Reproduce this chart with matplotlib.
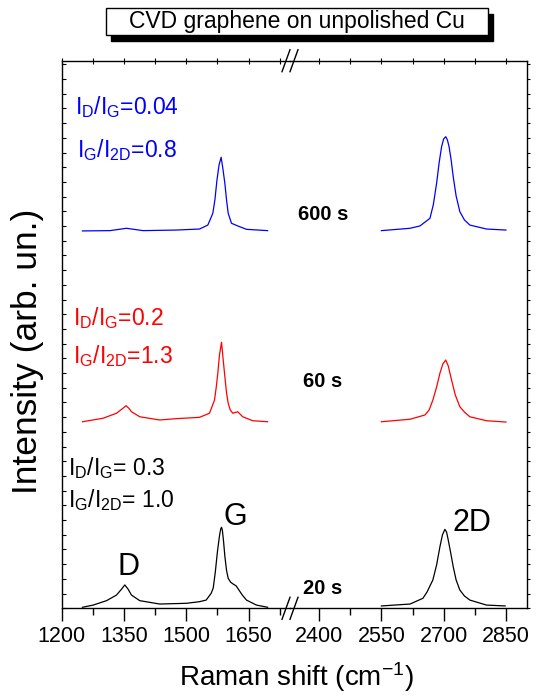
"""
Raman spectra of CVD graphene on unpolished Cu (20 s / 60 s / 600 s growth),
drawn on a broken x axis (D+G window and 2D window).
"""

import matplotlib

matplotlib.use("Agg")
import matplotlib.pyplot as plt  # noqa: E402
from matplotlib.lines import Line2D  # noqa: E402
from matplotlib.patches import Rectangle  # noqa: E402

# spectra, intensity stacked in arb. units
x_dg_20s = [1250, 1276, 1308, 1332, 1344, 1352, 1360, 1368, 1388, 1436, 1500, 1532, 1548,
            1560, 1565, 1570, 1575, 1580, 1583, 1585, 1587, 1590, 1593, 1597, 1601, 1607,
            1614, 1620, 1627, 1635, 1645, 1669, 1696]
y_dg_20s = [0.07, 0.22, 0.52, 0.90, 1.30, 1.59, 1.30, 0.90, 0.52, 0.29, 0.34, 0.45, 0.56,
            1.02, 1.38, 2.47, 3.83, 4.92, 5.40, 5.51, 5.31, 4.50, 3.54, 2.58, 2.04, 1.77,
            1.63, 1.53, 1.24, 0.90, 0.56, 0.22, 0.07]
x_2d_20s = [2550, 2619, 2650, 2660, 2674, 2683, 2691, 2697, 2703, 2707, 2711, 2717, 2723,
            2730, 2739, 2750, 2763, 2803, 2848]
y_2d_20s = [0.16, 0.29, 0.68, 1.11, 1.93, 2.95, 4.19, 4.99, 5.37, 5.18, 4.65, 3.76, 2.83,
            1.93, 1.24, 0.84, 0.56, 0.22, 0.16]

x_dg_60s = [1250, 1300, 1332, 1345, 1355, 1362, 1368, 1388, 1436, 1476, 1532, 1556, 1568,
            1572, 1576, 1580, 1585, 1589, 1593, 1597, 1601, 1606, 1612, 1624, 1636, 1660, 1696]
y_dg_60s = [12.69, 12.93, 13.27, 13.55, 13.78, 13.60, 13.37, 13.03, 12.81, 12.90, 12.99, 13.27, 14.16,
            14.99, 15.99, 17.23, 18.10, 16.89, 15.76, 14.65, 13.95, 13.49, 13.27, 13.37, 13.03,
            12.76, 12.69]
x_2d_60s = [2550, 2619, 2655, 2665, 2674, 2683, 2691, 2698, 2705, 2711, 2719, 2728, 2739,
            2750, 2763, 2803, 2850]
y_2d_60s = [12.69, 12.86, 13.15, 13.49, 14.17, 15.05, 15.99, 16.62, 16.89, 16.49, 15.53, 14.51,
            13.71, 13.35, 13.03, 12.76, 12.67]

x_dg_600s = [1250, 1316, 1356, 1396, 1476, 1532, 1552, 1564, 1569, 1574, 1579, 1584, 1588,
             1593, 1597, 1601, 1609, 1624, 1645, 1696]
y_dg_600s = [25.67, 25.69, 25.85, 25.69, 25.73, 25.80, 26.07, 26.87, 27.78, 29.14, 30.16, 30.68,
             29.95, 28.91, 27.78, 26.87, 26.19, 26.01, 25.78, 25.69]
x_2d_600s = [2550, 2619, 2643, 2667, 2675, 2683, 2689, 2695, 2700, 2705, 2709, 2713, 2718,
             2723, 2730, 2739, 2750, 2763, 2803, 2850]
y_2d_600s = [25.69, 25.85, 26.01, 26.53, 27.44, 28.91, 30.29, 31.40, 31.93, 32.08, 31.86, 31.40,
             30.50, 29.36, 28.05, 26.98, 26.42, 26.07, 25.80, 25.73]

times = ["20 s", "60 s", "600 s"]
colors = ["black", "red", "blue"]
ratio_dg = [r"I$_\mathrm{D}$/I$_\mathrm{G}$= 0.3", r"I$_\mathrm{D}$/I$_\mathrm{G}$=0.2",
            r"I$_\mathrm{D}$/I$_\mathrm{G}$=0.04"]
ratio_g2d = [r"I$_\mathrm{G}$/I$_\mathrm{2D}$= 1.0", r"I$_\mathrm{G}$/I$_\mathrm{2D}$=1.3",
             r"I$_\mathrm{G}$/I$_\mathrm{2D}$=0.8"]

left_ticks = [1200, 1350, 1500, 1650]
left_minor = [1275, 1425, 1575, 1725]
right_ticks = [2400, 2550, 2700, 2850]
right_minor = [2475, 2625, 2775]

FONT = "Liberation Sans"
plt.rcParams["font.family"] = [FONT, "DejaVu Sans"]
plt.rcParams["mathtext.fontset"] = "custom"
plt.rcParams["mathtext.rm"] = FONT
plt.rcParams["mathtext.it"] = FONT
plt.rcParams["mathtext.bf"] = FONT + ":bold"

W, H = 539, 697
fig = plt.figure(figsize=(W / 100, H / 100), dpi=100)


def fx(px):
    return px / W


def fy(py):
    return 1 - py / H


gs = fig.add_gridspec(1, 2, left=fx(61.7), right=fx(526.7), bottom=fy(608.3), top=fy(60.7),
                      wspace=0, width_ratios=[550, 570])
ax1 = fig.add_subplot(gs[0])
ax2 = fig.add_subplot(gs[1], sharey=ax1)
for ax in (ax1, ax2):
    ax.patch.set_visible(False)

xs_dg = [x_dg_20s, x_dg_60s, x_dg_600s]
ys_dg = [y_dg_20s, y_dg_60s, y_dg_600s]
xs_2d = [x_2d_20s, x_2d_60s, x_2d_600s]
ys_2d = [y_2d_20s, y_2d_60s, y_2d_600s]
for xa, ya, xb, yb, c in zip(xs_dg, ys_dg, xs_2d, ys_2d, colors):
    ax1.plot(xa, ya, color=c, lw=0.9)
    ax2.plot(xb, yb, color=c, lw=0.9)

ax1.set_xlim(1200, 1750)
ax2.set_xlim(2330, 2900)
ax1.set_ylim(0, 37.25)

ax1.spines["right"].set_visible(False)
ax2.spines["left"].set_visible(False)
for ax in (ax1, ax2):
    for s in ax.spines.values():
        s.set_linewidth(1.0)

ax1.set_xticks(left_ticks)
ax1.set_xticks(left_minor, minor=True)
ax2.set_xticks(right_ticks)
ax2.set_xticks(right_minor, minor=True)
for ax in (ax1, ax2):
    ax.tick_params(axis="x", which="major", direction="out", length=9, width=1, pad=4,
                   labelsize=15.5)
    ax.tick_params(axis="x", which="minor", direction="out", length=5, width=1)
    top = ax.secondary_xaxis("top")
    top.set_xticks(ax.get_xticks())
    top.set_xticks(ax.get_xticks(minor=True), minor=True)
    top.tick_params(which="both", direction="inout", length=4, width=0.8, labeltop=False)
    top.spines["top"].set_visible(False)

ax1.set_yticks(range(0, 38))
ax1.tick_params(axis="y", direction="in", length=3, width=0.8, labelleft=False)
ax2.tick_params(axis="y", left=False, right=True, direction="out", length=2, width=0.8,
                labelleft=False, labelright=False)

# ratio annotations
ratio_x = [1215, 1227, 1232]
ratio_y1 = [9.07, 19.27, 33.6]
ratio_y2 = [6.89, 16.7, 30.7]
for t1, t2, c, x0, y1, y2 in zip(ratio_dg, ratio_g2d, colors, ratio_x, ratio_y1, ratio_y2):
    ax1.text(x0, y1, t1, color=c, fontsize=16.5, ha="left", va="baseline")
    ax1.text(x0 + (5 if c == "blue" else 0), y2, t2, color=c, fontsize=16.5, ha="left",
             va="baseline")

time_y = [1.38, 15.4, 26.76]
for t, y in zip(times, time_y):
    ax1.text(1829, y, t, fontsize=14.5, fontweight="bold", ha="center", va="center")

ax1.text(1360, 2.84, "D", fontsize=22, ha="center", va="center")
ax1.text(1617, 6.18, "G", fontsize=22, ha="center", va="center")
ax2.text(2767, 5.77, "2D", fontsize=22, ha="center", va="center")

# axis labels
fig.text(fx(296), fy(677), r"Raman shift (cm$^{\mathrm{-1}}$)", fontsize=20, ha="center",
         va="center")
fig.text(fx(28), fy(351), "Intensity (arb. un.)", fontsize=25.5, rotation=90, ha="center",
         va="center")

# break marks
for cx in (286, 294):
    for yb in (608.3, 60.7):
        fig.add_artist(Line2D([fx(cx - 4), fx(cx + 4)], [fy(yb + 11), fy(yb - 11)],
                              color="black", lw=1.0))

# title box with drop shadow
fig.add_artist(Rectangle((fx(111), fy(41)), fx(488) - fx(106), fy(8) - fy(35),
                         facecolor="black", edgecolor="black", lw=1))
fig.add_artist(Rectangle((fx(106), fy(35)), fx(488) - fx(106), fy(8) - fy(35),
                         facecolor="white", edgecolor="black", lw=1))
fig.text(fx(297), fy(21.5), "CVD graphene on unpolished Cu", fontsize=16.5, ha="center",
         va="center")

fig.savefig("out.png", dpi=100)
